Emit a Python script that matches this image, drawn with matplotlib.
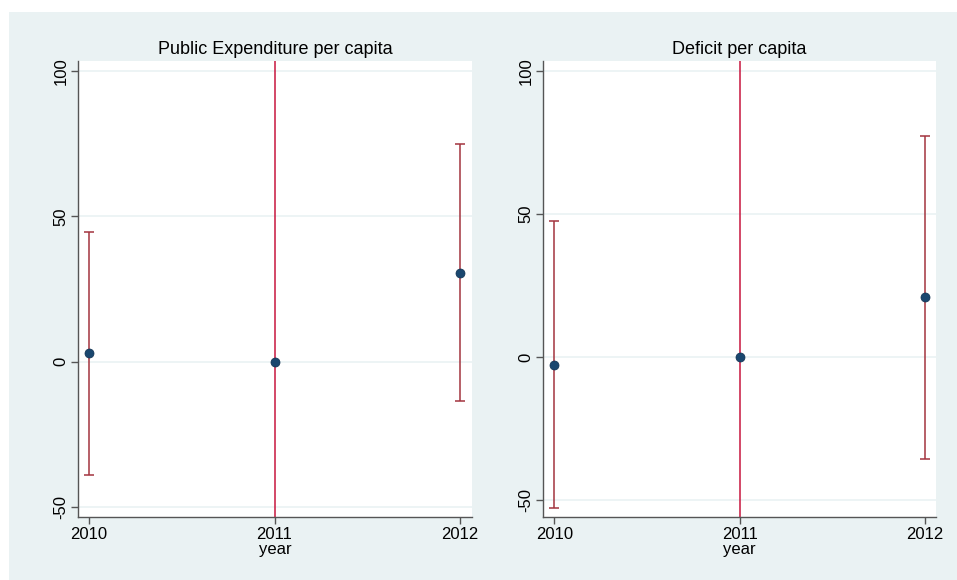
import numpy as np
import matplotlib.pyplot as plt
from matplotlib.patches import Rectangle

plt.rcParams['font.family'] = ['Liberation Sans', 'DejaVu Sans']

years = [2010, 2011, 2012]

# Public Expenditure per capita
pe_est = [3.0, 0.0, 30.5]
pe_lo = [-38.8, -400.0, -13.4]
pe_hi = [44.6, 400.0, 74.8]

# Deficit per capita
df_est = [-2.8, 0.0, 21.0]
df_lo = [-52.6, -400.0, -35.6]
df_hi = [47.6, 400.0, 77.3]

titles = ["Public Expenditure per capita", "Deficit per capita"]

bg = '#EAF2F3'
navy = '#1A476F'
maroon = '#A3343F'
crimson = '#C8163F'

fig = plt.figure(figsize=(9.57, 5.8), dpi=100)
fig.patch.set_facecolor('white')
fig.patches.append(Rectangle((9/957, 0), 1 - 9/957, 1 - 12/580,
                             transform=fig.transFigure, facecolor=bg,
                             edgecolor='none', zorder=-10))

ax1 = fig.add_axes([78/957, 1 - 517/580, 394/957, 456/580])
ax2 = fig.add_axes([543/957, 1 - 517/580, 393/957, 456/580])

panels = [
    (ax1, pe_est, pe_lo, pe_hi, (-53.4, 103.4), (2009.94, 2012.065)),
    (ax2, df_est, df_lo, df_hi, (-55.9, 103.5), (2009.939, 2012.059)),
]

for i, (ax, est, lo, hi, ylim, xlim) in enumerate(panels):
    ax.set_facecolor('white')
    for j, yr in enumerate(years):
        wide = (hi[j] - lo[j]) > 300
        col = crimson if wide else maroon
        ax.errorbar([yr], [est[j]],
                    yerr=[[est[j] - lo[j]], [hi[j] - est[j]]],
                    fmt='none', ecolor=col, elinewidth=1.1,
                    capsize=0 if wide else 3.5, capthick=1.1, zorder=2)
    ax.plot(years, est, 'o', color=navy, markersize=6.5, zorder=3,
            markeredgecolor='#0f3050', markeredgewidth=0.5)

    ax.set_ylim(*ylim)
    ax.set_xlim(*xlim)
    ax.set_yticks([-50, 0, 50, 100])
    ax.set_xticks(years)
    ax.set_yticklabels(['-50', '0', '50', '100'], rotation=90, va='center')
    ax.grid(axis='y', color=bg, linewidth=1.2)
    ax.set_axisbelow(True)
    for s in ['top', 'right']:
        ax.spines[s].set_visible(False)
    for s in ['left', 'bottom']:
        ax.spines[s].set_color('#555555')
        ax.spines[s].set_linewidth(1.0)
    ax.tick_params(axis='both', length=5, width=1, color='#555555',
                   labelsize=12, pad=2)
    ax.set_title(titles[i], fontsize=13, pad=5)
    ax.set_xlabel('year', fontsize=12, labelpad=0)

fig.savefig('out.png', dpi=100, facecolor=fig.get_facecolor())
